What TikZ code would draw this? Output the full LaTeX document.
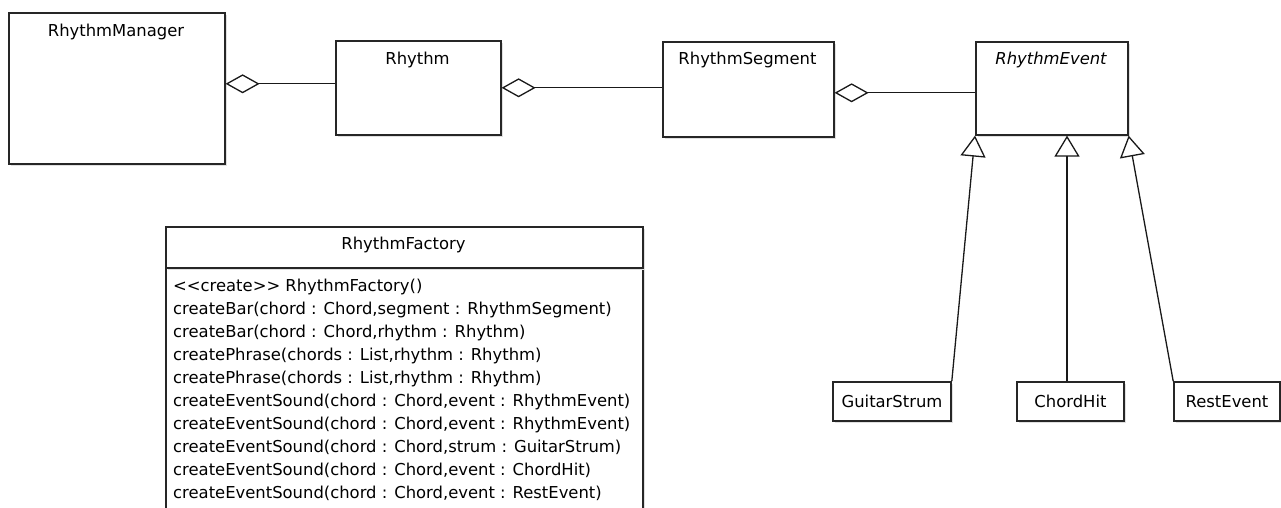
\documentclass[tikz,border=0pt]{standalone}
\usepackage{fontspec}
\setmainfont{DejaVu Sans}
\usetikzlibrary{arrows.meta,shadows}
\begin{document}
\begin{tikzpicture}[x=1pt,y=-1pt,
  cls/.style={draw=black!85, line width=1.6pt, fill=white, inner sep=0pt,
    anchor=north west, font=\fontsize{16.4}{20}\selectfont,
    drop shadow={shadow xshift=2pt, shadow yshift=-2pt, fill=black!12, opacity=1}},
  cname/.style={inner sep=0pt, anchor=center, font=\fontsize{16.4}{20}\selectfont},
  row/.style={inner sep=0pt, anchor=base west, font=\fontsize{16.4}{20}\selectfont},
  aggr/.style={draw=black!90, line width=1.3pt, {Diamond[length=34pt,width=19pt,fill=white]}-},
  gen/.style={draw=black!90, line width=1.3pt, -{Triangle[length=21pt,width=25pt,fill=white]}}
]
\clip (0,0) rectangle (1281,508);
\fill[white] (0,0) rectangle (1281,508);

% top row of classes
\node[cls, minimum width=216pt, minimum height=151pt] (mgr) at (8,12) {};
\node[cname] (mgrname) at (116,32) {RhythmManager};
\node[cls, minimum width=165pt, minimum height=94pt] (rhythm) at (335,40) {};
\node[cname] (rhythmname) at (417.5,60) {Rhythm};
\node[cls, minimum width=171pt, minimum height=95pt] (seg) at (662,41) {};
\node[cname] (segname) at (747.5,60) {RhythmSegment};
\node[cls, minimum width=152pt, minimum height=93pt] (evt) at (975,41) {};
\node[cname, font=\fontsize{16.4}{20}\selectfont\itshape] (evtname) at (1051,60) {RhythmEvent};

% subclasses of RhythmEvent
\node[cls, minimum width=118pt, minimum height=39pt, anchor=center] (strum) at (892,401.5) {GuitarStrum};
\node[cls, minimum width=107pt, minimum height=39pt, anchor=center] (hit) at (1070.5,401.5) {ChordHit};
\node[cls, minimum width=106pt, minimum height=39pt, anchor=center] (rest) at (1227,401.5) {RestEvent};

% factory class with operations compartment
\node[cls, minimum width=477pt, minimum height=263pt] (facbody) at (165,267) {};
\node[cls, minimum width=477pt, minimum height=41pt] (fachead) at (165,226) {};
\node[cname] (facname) at (403.5,245) {RhythmFactory};
\foreach \op [count=\i] in {
  {<\kern0pt<create>\kern0pt> RhythmFactory()},
  {createBar(chord : Chord,segment : RhythmSegment)},
  {createBar(chord : Chord,rhythm : Rhythm)},
  {createPhrase(chords : List,rhythm : Rhythm)},
  {createPhrase(chords : List,rhythm : Rhythm)},
  {createEventSound(chord : Chord,event : RhythmEvent)},
  {createEventSound(chord : Chord,event : RhythmEvent)},
  {createEventSound(chord : Chord,strum : GuitarStrum)},
  {createEventSound(chord : Chord,event : ChordHit)},
  {createEventSound(chord : Chord,event : RestEvent)}}
  \node[row] (op\i) at (173,{291+23*(\i-1)}) {\op};

% aggregations
\draw[aggr] ([yshift=4.5pt]mgr.east) -- ([yshift=4.5pt]mgr.east -| rhythm.west);
\draw[aggr] (rhythm.east) -- (rhythm.east -| seg.west);
\draw[aggr] ([yshift=-3.5pt]seg.east) -- ([yshift=-3.5pt]seg.east -| evt.west);

% generalizations
\draw[gen] (strum.north east) -- (evt.south west);
\draw[gen] ([xshift=-3.5pt]hit.north) -- ([xshift=-3.5pt]hit.north |- evt.south);
\draw[gen] (rest.north west) -- (evt.south east);
\end{tikzpicture}
\end{document}
